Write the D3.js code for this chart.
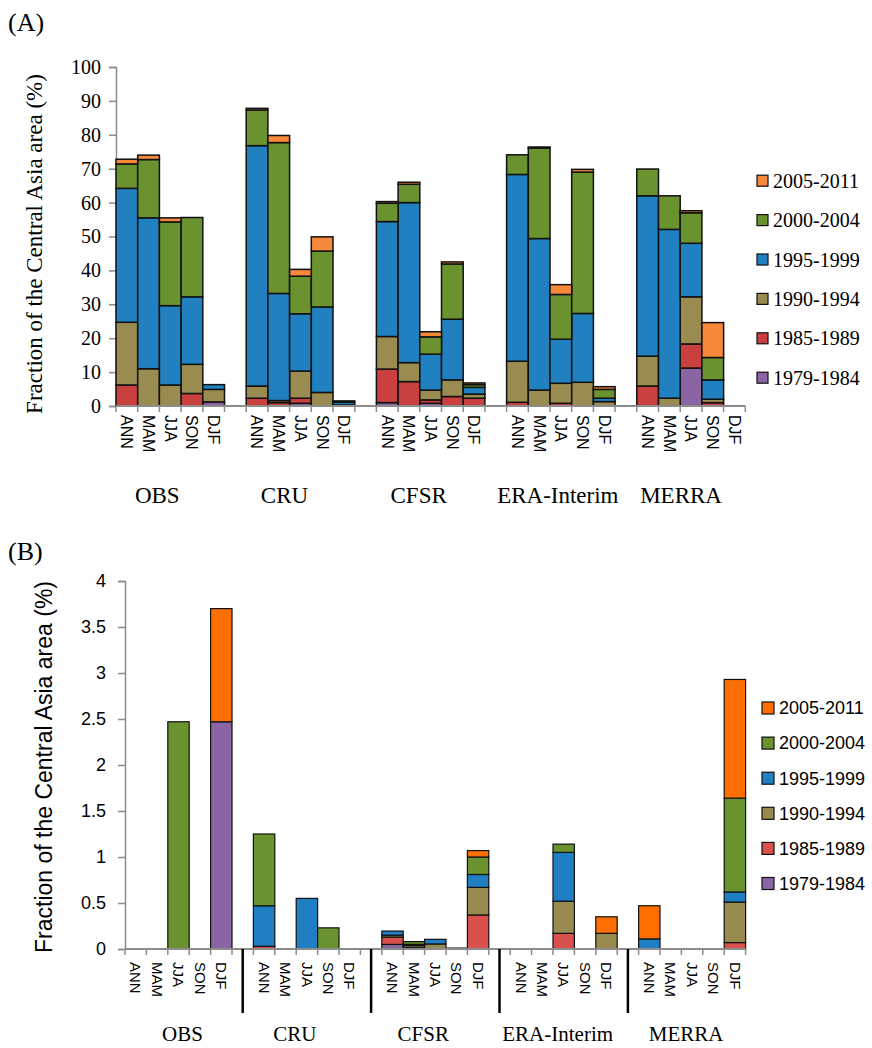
<!DOCTYPE html>
<html>
<head>
<meta charset="utf-8">
<script src="https://cdn.jsdelivr.net/npm/d3@7"></script>
<style>
  body { margin: 0; background: #fff; }
  svg { display: block; }
</style>
</head>
<body>
<svg width="872" height="1048"></svg>
<script>
// categories
var groups = ["OBS", "CRU", "CFSR", "ERA-Interim", "MERRA"];
var seasons = ["ANN", "MAM", "JJA", "SON", "DJF"];
var periods = ["1979-1984", "1985-1989", "1990-1994", "1995-1999", "2000-2004", "2005-2011"];

// panel A values (%), 25 per period: groups x seasons (ANN,MAM,JJA,SON,DJF)
var a1979 = [0, 0, 0, 0, 1.2,   0, 0, 0.8, 0, 0,        1.0, 0, 0.8, 0, 0,       0, 0, 0, 0, 0,          0, 0, 11.2, 0, 0];
var a1985 = [6.2, 0, 0, 3.7, 0, 2.3, 1.0, 1.5, 0, 0,    9.9, 7.2, 1.0, 2.8, 2.3, 1.1, 0, 0.8, 0, 0,      5.9, 0, 7.1, 1.0, 0];
var a1990 = [18.5, 11.0, 6.2, 8.6, 3.7, 3.6, 0.6, 8.0, 4.0, 0.3, 9.6, 5.6, 2.9, 4.9, 1.2, 12.1, 4.7, 5.9, 7.0, 1.3, 8.8, 2.3, 13.9, 1.0, 0];
var a1995 = [39.5, 44.5, 23.4, 19.9, 1.4, 70.9, 31.6, 16.9, 25.2, 0.8, 33.9, 47.2, 10.6, 17.9, 2.0, 55.1, 44.7, 13.0, 20.3, 1.0, 47.3, 49.8, 15.8, 5.7, 0];
var a2000 = [7.2, 17.2, 24.7, 23.4, 0, 10.5, 44.5, 11.1, 16.5, 0.4, 5.4, 5.4, 5.1, 16.3, 0.8, 5.8, 26.7, 13.2, 41.7, 2.6, 7.9, 9.9, 9.0, 6.6, 0];
var a2005 = [1.4, 1.3, 1.2, 0, 0, 0.5, 2.1, 2.0, 4.2, 0,  0.5, 0.6, 1.5, 0.6, 0.5, 0, 0.3, 2.9, 0.8, 0.8,  0, 0, 0.6, 10.3, 0];

// panel B values (%)
var b1979 = [0, 0, 0, 0, 2.47,    0, 0, 0, 0, 0,        0.05, 0, 0, 0, 0,          0, 0, 0, 0, 0,        0, 0, 0, 0, 0];
var b1985 = [0, 0, 0, 0, 0,       0.03, 0, 0, 0, 0,     0.08, 0.02, 0, 0, 0.37,    0, 0, 0.17, 0, 0,     0, 0, 0, 0, 0.07];
var b1990 = [0, 0, 0, 0, 0,       0, 0, 0, 0, 0,        0.02, 0.02, 0.055, 0.01, 0.30, 0, 0, 0.35, 0, 0.17, 0, 0, 0, 0, 0.44];
var b1995 = [0, 0, 0, 0, 0,       0.44, 0, 0.55, 0, 0,  0.045, 0.01, 0.05, 0, 0.14, 0, 0, 0.53, 0, 0,    0.11, 0, 0, 0, 0.11];
var b2000 = [0, 0, 2.47, 0, 0,    0.78, 0, 0, 0.23, 0,  0, 0.03, 0, 0, 0.19,      0, 0, 0.09, 0, 0,      0, 0, 0, 0, 1.02];
var b2005 = [0, 0, 0, 0, 1.23,    0, 0, 0, 0, 0,        0, 0, 0, 0, 0.07,         0, 0, 0, 0, 0.18,      0.36, 0, 0, 0, 1.29];

// y ticks
var ticksA = d3.range(0, 101, 10);
var ticksB = [0, 0.5, 1, 1.5, 2, 2.5, 3, 3.5, 4];

var colorsA = ["#8a64a3", "#c9403e", "#9a8b50", "#2180c0", "#6a922e", "#f5883a"];
var colorsB = ["#8a64a3", "#d9504c", "#988b4f", "#1f7fc2", "#6a922e", "#ff6f00"];

var svg = d3.select("svg");

var buildRows = function(series)
{
  let rows = [];
  groups.forEach(function(g, gi) {
    seasons.forEach(function(s, si) {
      let row = { key: g + "|" + s, group: g, season: s };
      periods.forEach(function(p, pi) { row[p] = series[pi][gi * 5 + si]; });
      rows.push(row);
    });
  });
  return rows;
};

// slot keys: 5 seasons per group with one empty slot between groups
var slotKeys = [];
groups.forEach(function(g, gi) {
  seasons.forEach(function(s) { slotKeys.push(g + "|" + s); });
  if (gi < groups.length - 1) slotKeys.push("gap" + gi);
});

var drawPanel = function(cfg)
{
  let plot = svg.append("g");
  let x = d3.scaleBand().domain(slotKeys).range([cfg.x0, cfg.x1]).paddingInner(0).paddingOuter(0);
  let y = d3.scaleLinear().domain([0, cfg.yMax]).range([cfg.y0, cfg.yTop]);
  let bw = x.bandwidth();

  // y axis
  let yAxis = d3.axisLeft(y).tickValues(cfg.ticks).tickSize(7).tickPadding(cfg.tickPad)
    .tickFormat(function(d) { return String(d); });
  let yg = plot.append("g").attr("transform", "translate(" + cfg.x0 + ",0)").call(yAxis);
  yg.attr("font-family", null).attr("font-size", null);
  yg.select(".domain").attr("stroke", "#8c8c8c").attr("stroke-width", 1.5);
  yg.selectAll(".tick line").attr("stroke", "#8c8c8c").attr("stroke-width", 1.5);
  yg.selectAll(".tick text").attr("fill", "#000").style("font-family", cfg.tickFont)
    .style("font-size", cfg.tickSize + "px");

  // bars
  let rows = buildRows(cfg.series);
  let stacked = d3.stack().keys(periods)(rows);
  stacked.forEach(function(layer, li) {
    plot.append("g").selectAll("rect")
      .data(layer.filter(function(d) { return d[1] - d[0] > 0; }))
      .enter().append("rect")
      .attr("x", function(d) { return x(d.data.key); })
      .attr("width", bw)
      .attr("y", function(d) { return y(d[1]); })
      .attr("height", function(d) { return y(d[0]) - y(d[1]); })
      .attr("fill", cfg.colors[li])
      .attr("stroke", "#111")
      .attr("stroke-width", cfg.barStroke);
  });

  // x axis line and ticks at slot boundaries
  plot.append("line")
    .attr("x1", cfg.x0).attr("x2", cfg.x1).attr("y1", cfg.y0).attr("y2", cfg.y0)
    .attr("stroke", "#8c8c8c").attr("stroke-width", 2);
  plot.append("g").selectAll("line")
    .data(d3.range(slotKeys.length + 1))
    .enter().append("line")
    .attr("x1", function(i) { return cfg.x0 + i * bw; })
    .attr("x2", function(i) { return cfg.x0 + i * bw; })
    .attr("y1", cfg.y0).attr("y2", cfg.y0 + 6)
    .attr("stroke", "#8c8c8c").attr("stroke-width", 1.5);

  // season labels, rotated clockwise
  plot.append("g").selectAll("text")
    .data(rows)
    .enter().append("text")
    .attr("transform", function(d) {
      return "translate(" + (x(d.key) + bw / 2) + "," + cfg.labelTop + ") rotate(90)";
    })
    .attr("dy", "0.35em")
    .style("font-family", "'Liberation Sans', Arial, sans-serif")
    .style("font-size", cfg.seasonSize + "px")
    .text(function(d) { return d.season; });

  // group separators (panel B)
  if (cfg.separators) {
    plot.append("g").selectAll("line")
      .data(slotKeys.filter(function(k) { return k.indexOf("gap") === 0; }))
      .enter().append("line")
      .attr("x1", function(k) { return x(k) + bw / 2; })
      .attr("x2", function(k) { return x(k) + bw / 2; })
      .attr("y1", cfg.y0).attr("y2", cfg.y0 + 64)
      .attr("stroke", "#000").attr("stroke-width", 2.5);
  }

  // group labels
  plot.append("g").selectAll("text")
    .data(groups)
    .enter().append("text")
    .attr("x", function(g, gi) {
      return x(g + "|ANN") + 2.5 * bw + cfg.groupShift[gi];
    })
    .attr("y", cfg.groupY)
    .attr("text-anchor", "middle")
    .style("font-family", "'Liberation Serif', 'Times New Roman', serif")
    .style("font-size", cfg.groupSize + "px")
    .text(function(g) { return g; });

  // y title
  plot.append("text")
    .attr("transform", "translate(" + cfg.titleX + "," + cfg.titleY + ") rotate(-90)")
    .attr("text-anchor", "middle")
    .style("font-family", cfg.titleFont)
    .style("font-size", cfg.titleSize + "px")
    .text("Fraction of the Central Asia area (%)");

  // legend, newest period on top
  let leg = plot.append("g").selectAll("g")
    .data(periods.slice().reverse())
    .enter().append("g")
    .attr("transform", function(d, i) {
      return "translate(" + cfg.legX + "," + (cfg.legY + i * cfg.legStep) + ")";
    });
  leg.append("rect")
    .attr("x", 0).attr("y", -cfg.legBox / 2)
    .attr("width", cfg.legBox).attr("height", cfg.legBox)
    .attr("fill", function(d) { return cfg.colors[periods.indexOf(d)]; })
    .attr("stroke", "#111").attr("stroke-width", 1.2);
  leg.append("text")
    .attr("x", cfg.legBox + 5).attr("dy", "0.35em")
    .style("font-family", cfg.legFont)
    .style("font-size", cfg.legSize + "px")
    .text(function(d) { return d; });

  // panel letter
  plot.append("text")
    .attr("x", 8).attr("y", cfg.letterY)
    .style("font-family", "'Liberation Serif', 'Times New Roman', serif")
    .style("font-size", "26px")
    .text(cfg.letter);
};

drawPanel({
  letter: "(A)", letterY: 31,
  series: [a1979, a1985, a1990, a1995, a2000, a2005],
  colors: colorsA,
  x0: 116, x1: 745.3, y0: 406, yTop: 67, yMax: 100, ticks: ticksA,
  tickFont: "'Liberation Serif', 'Times New Roman', serif", tickSize: 20, tickPad: 8,
  barStroke: 1.5,
  labelTop: 415, seasonSize: 16,
  separators: false,
  groupY: 503, groupSize: 23, groupShift: [-13, -16, -12, -3, -10],
  titleX: 42, titleY: 244, titleFont: "'Liberation Serif', 'Times New Roman', serif", titleSize: 23,
  legX: 757, legY: 180.7, legStep: 39.4, legBox: 11,
  legFont: "'Liberation Serif', 'Times New Roman', serif", legSize: 20
});

drawPanel({
  letter: "(B)", letterY: 560,
  series: [b1979, b1985, b1990, b1995, b2000, b2005],
  colors: colorsB,
  x0: 125, x1: 745.6, y0: 949, yTop: 581, yMax: 4, ticks: ticksB,
  tickFont: "'Liberation Sans', Arial, sans-serif", tickSize: 18, tickPad: 12,
  barStroke: 1.2,
  labelTop: 962, seasonSize: 15,
  separators: true,
  groupY: 1041, groupSize: 21, groupShift: [4, -12, -12, -6, -6],
  titleX: 52, titleY: 767, titleFont: "'Liberation Sans', Arial, sans-serif", titleSize: 23,
  legX: 762, legY: 708, legStep: 35.1, legBox: 12,
  legFont: "'Liberation Sans', Arial, sans-serif", legSize: 18
});
</script>
</body>
</html>
